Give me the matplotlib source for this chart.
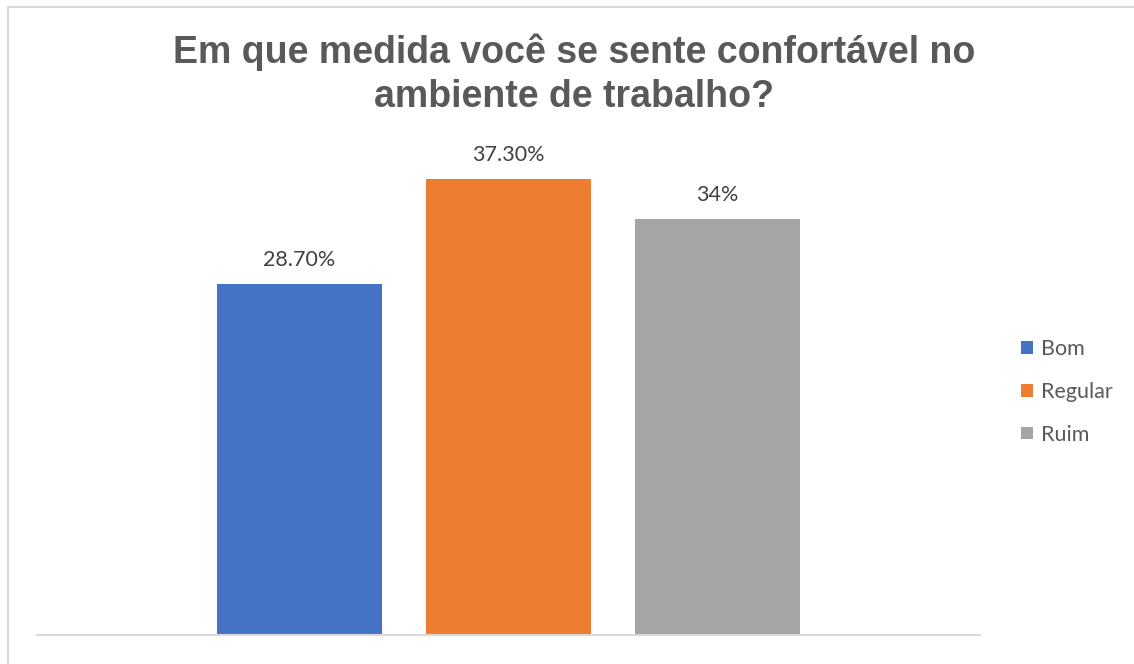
import matplotlib.pyplot as plt
import matplotlib.patches as patches

# Data
series = ['Bom', 'Regular', 'Ruim']
values = [28.7, 37.3, 34.0]
labels = ['28.70%', '37.30%', '34%']
colors = ['#4472C4', '#ED7D31', '#A5A5A5']

W, H = 1134, 664
fig = plt.figure(figsize=(W / 100, H / 100), dpi=100, facecolor='white')

# outer border of the chart area (only top and left edges fall inside the image)
fig.add_artist(patches.Rectangle((7.5 / W, -20 / H), (W + 20) / W, (H - 6.5 + 20) / H,
                                 transform=fig.transFigure, fill=False,
                                 edgecolor='#D9D9D9', linewidth=1.5))

ax = fig.add_axes([37 / W, 29 / H, (980 - 37) / W, (635 - 146) / H])
pos = list(range(len(series)))
bars = ax.bar(pos, values, width=0.79, color=colors, label=series, zorder=2)

for b, txt in zip(bars, labels):
    ax.text(b.get_x() + b.get_width() / 2, b.get_height() + 1.15, txt,
            ha='center', va='bottom', fontsize=15.5, color='#404040', family='Lato')

ax.set_xlim(1 - 471.5 / 209, 1 + 471.5 / 209)
ax.set_ylim(0, 40)
ax.set_xticks([])
ax.set_yticks([])
for s in ['top', 'left', 'right']:
    ax.spines[s].set_visible(False)
ax.spines['bottom'].set_color('#D9D9D9')
ax.spines['bottom'].set_linewidth(1.5)

fig.text(574 / W, 1 - 74 / H, 'Em que medida você se sente confortável no\nambiente de trabalho?',
         ha='center', va='center', fontsize=27, fontweight='bold', color='#595959',
         family='Liberation Sans', linespacing=1.27)

leg = fig.legend(handles=bars, labels=series, loc='center left',
                 bbox_to_anchor=(1002 / W, 1 - 392 / H), frameon=False,
                 handlelength=0.55, handleheight=0.55,
                 handletextpad=0.35, labelspacing=1.05, prop={'family': 'Lato', 'size': 15.5})
for t in leg.get_texts():
    t.set_color('#595959')

fig.savefig('out.png', dpi=100, facecolor='white')
